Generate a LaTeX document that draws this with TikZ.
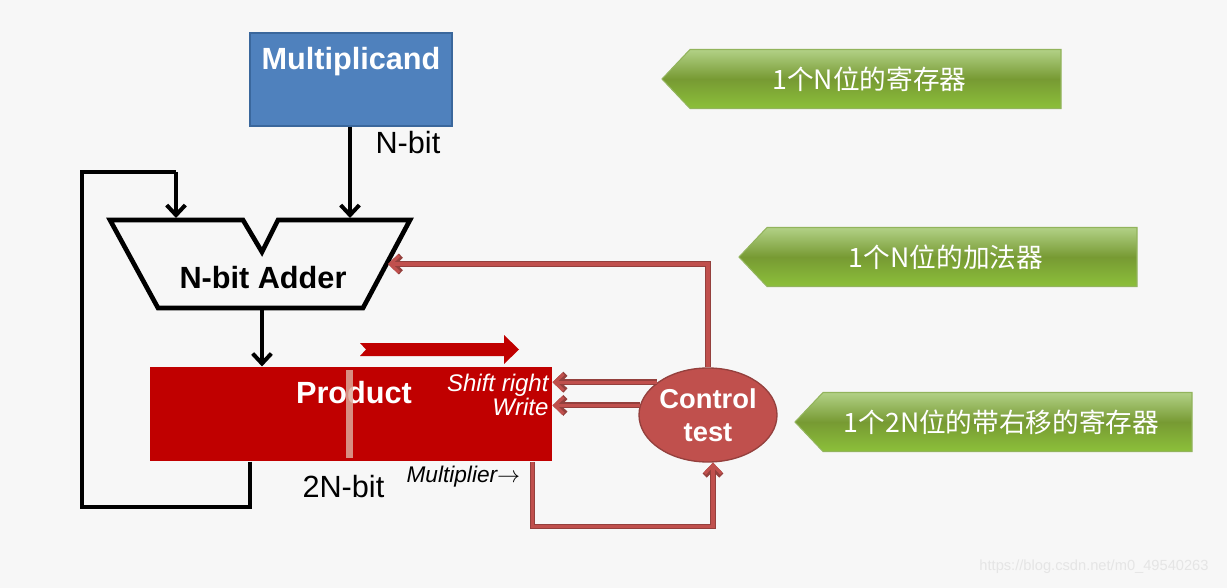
\documentclass[tikz,border=0pt]{standalone}
\usepackage{fontspec}
\setmainfont{Liberation Sans}
\newfontfamily\cjk{Noto Sans CJK SC}
\usepackage{tikz}
\usepackage{xcolor}
\usetikzlibrary{shapes}
\usetikzlibrary{calc}
\usetikzlibrary{positioning, arrows.meta}

\definecolor{bgcol}{HTML}{F7F7F7}
\definecolor{mcandfill}{HTML}{4F81BD}
\definecolor{mcandedge}{HTML}{3A679C}
\definecolor{prodred}{HTML}{C00000}
\definecolor{stripecol}{HTML}{DDA898}
\definecolor{ctlfill}{HTML}{C0504D}
\definecolor{ctledge}{HTML}{94403D}
\definecolor{grtop}{HTML}{B2D186}
\definecolor{grmid}{HTML}{779A33}
\definecolor{grbot}{HTML}{8CC03A}
\definecolor{gredge}{HTML}{92B45C}

\begin{document}
\begin{tikzpicture}[x=0.75pt, y=-0.75pt, thick,
    blk/.style = {line width=3pt, -{Straight Barb[length=7.5pt, width=14pt]}},
    ctl/.style = {draw=ctlfill, line width=2.4pt, -{Straight Barb[length=6.5pt, width=12.5pt]},
                  preaction={draw=ctledge, line width=4.4pt, -{Straight Barb[length=6.5pt, width=12.5pt]}}},
    reg/.style = {rectangle, inner sep=0pt},
    big/.style = {font=\fontsize{23}{26}\selectfont},
    bigb/.style = {font=\fontsize{23}{26}\selectfont\bfseries},
    shl/.style = {font=\fontsize{18}{20}\selectfont\itshape, text=white, inner sep=0pt},
    banner/.style = {top color=grtop, bottom color=grbot, middle color=grmid},
    bantext/.style = {font=\fontsize{20}{22}\selectfont\cjk, text=white}]
    \useasboundingbox[fill=bgcol] (0,0) rectangle (1227,588);

    % registers and adder
    \node[reg, fill=mcandfill, draw=mcandedge, minimum width=151.5pt, minimum height=69.75pt] (mcand) at (351,79.5) {};
    \node[bigb, text=white, anchor=base] (mcandtxt) at (351,70) {Multiplicand};
    \node[big, anchor=base west, inner sep=0pt] (nbit) at (375,154) {N-bit};

    \draw[line width=3.5pt, line join=miter] (110,220) -- (243,220) -- (262,252) -- (278,220) -- (410,220)
        -- (363,308) -- (158,308) -- cycle;
    \node[bigb, anchor=base] (adder) at (263,288) {N-bit Adder};
    \coordinate (addin1) at (176,218);
    \coordinate (addin2) at (350,218);
    \coordinate (addout) at (262,308);
    \coordinate (addctl) at (388,264);

    \node[reg, fill=prodred, minimum width=301.5pt, minimum height=70.5pt] (product) at (351,414) {};
    \node[bigb, text=white, anchor=base] (prodtxt) at (354,403) {Product};
    \fill[stripecol, opacity=0.85] (346,370) rectangle (353,458);
    \fill[prodred] (360,343) -- (504,343) -- (504,335) -- (519,349.5) -- (504,364) -- (504,356)
        -- (360,356) -- (366,349.5) -- cycle;
    \node[shl, anchor=base east] (shift) at (549,391) {Shift right};
    \node[shl, anchor=base east] (write) at (549,415) {Write};
    \node[big, anchor=base west, inner sep=0pt] (twonbit) at (302,497) {2N-bit};
    \node[font=\fontsize{17}{19}\selectfont\itshape, anchor=base west, inner sep=0pt] (mplier) at (406,482) {Multiplier$\rightarrow$};

    \node[ellipse, fill=ctlfill, draw=ctledge, line width=1pt, minimum width=103.5pt, minimum height=70.5pt,
          inner sep=0pt, align=center, text=white, font=\fontsize{20.5}{24.5}\selectfont\bfseries] (ctrl) at (708,415) {Control\\test};

    % data paths
    \draw[blk] (mcand.south -| addin2) -- (addin2);
    \draw[blk] (addout) -- (addout |- product.north);
    \draw[line width=3pt, line join=miter] ([xshift=75.75pt]product.south west) |- (82,507) |- (176,172);
    \draw[blk] (176,172) -- (addin1);

    % control paths
    \draw[ctl] (ctrl.north) |- (addctl);
    \draw[ctl] (ctrl.147.6) -- (ctrl.147.6 -| product.east);
    \draw[ctl] (ctrl.172.4) -- (ctrl.172.4 -| product.east);
    \draw[ctl] ([xshift=-15pt]product.south east) -- ++(0,65) -| ([xshift=3.75pt]ctrl.south);

    % notes
    \foreach \l/\r/\y/\t [count=\i] in {662/1061/79/1个N位的寄存器, 739/1137/257/1个N位的加法器, 795/1192/422/1个2N位的带右移的寄存器}{
        \shade[banner] (\l,\y) -- (\l+28,\y-29.5) -- (\r,\y-29.5) -- (\r,\y+29.5) -- (\l+28,\y+29.5) -- cycle;
        \draw[gredge, line width=0.8pt] (\l,\y) -- (\l+28,\y-29.5) -- (\r,\y-29.5) -- (\r,\y+29.5) -- (\l+28,\y+29.5) -- cycle;
        \node[bantext] (ban\i) at ({(\l+28+\r)/2-6},\y) {\t};
    }

    \node[font=\fontsize{11}{12}\selectfont, text=black!10] (mark) at (1094,567) {https://blog.csdn.net/m0\_49540263};
\end{tikzpicture}
\end{document}
